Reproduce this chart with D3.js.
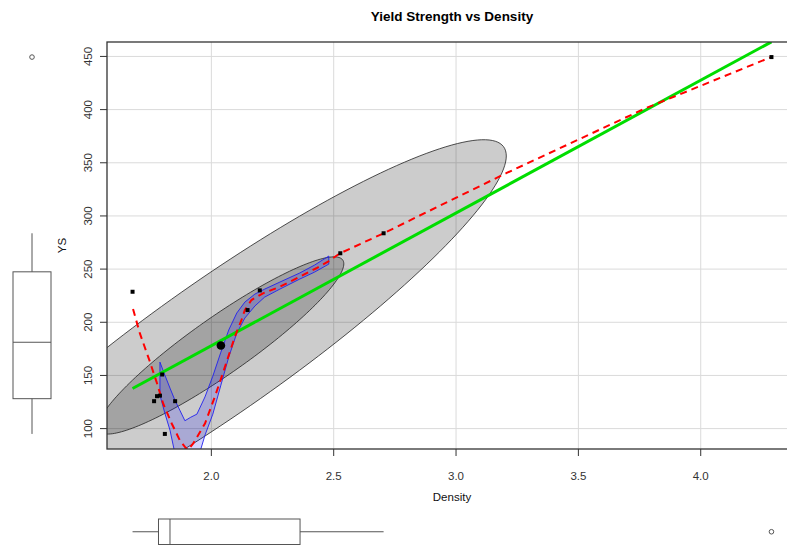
<!DOCTYPE html>
<html><head><meta charset="utf-8">
<script src="https://cdn.jsdelivr.net/npm/d3@7"></script>
<style>
body{margin:0;background:#fff}
svg{display:block;font-family:"Liberation Sans",Arial,Helvetica,sans-serif}
</style></head><body>
<svg id="chart" width="787" height="547"></svg>
<script>
// Observations
const density = [1.678, 1.766, 1.778, 1.790, 1.799, 1.810, 1.852, 2.148, 2.198, 2.527, 2.704, 4.289];
const ys      = [228.7, 125.8, 130.5, 131.0, 150.9, 95.0, 125.8, 211.5, 230.0, 264.9, 283.7, 449.4];

// Axis ticks
const xTicks = [2.0, 2.5, 3.0, 3.5, 4.0];
const xTickLabels = ["2.0", "2.5", "3.0", "3.5", "4.0"];
const yTicks = [100, 150, 200, 250, 300, 350, 400, 450];
const yTickLabels = ["100", "150", "200", "250", "300", "350", "400", "450"];

// Nonparametric smooth of YS on Density
const smoothX = [1.680, 1.708, 1.749, 1.776, 1.803, 1.838, 1.871, 1.892, 1.905, 1.926, 1.974, 2.014, 2.042, 2.069, 2.096, 2.123, 2.137, 2.164, 2.211, 2.280, 2.361, 2.429, 2.477, 2.526, 2.704, 3.205, 3.776, 4.288];
const smoothY = [212.4, 189.5, 162.8, 144.0, 123.6, 104.8, 89.1, 82.8, 80.0, 86.0, 104.8, 129.8, 148.7, 167.5, 186.3, 202.1, 211.5, 220.9, 227.2, 233.4, 242.8, 250.8, 257.0, 264.9, 283.7, 340.2, 401.4, 449.4];

// Band around the smooth
const bandX     = [1.790, 1.810, 1.831, 1.851, 1.871, 1.892, 1.916, 1.941, 1.974, 2.006, 2.039, 2.071, 2.104, 2.137, 2.178, 2.218, 2.280, 2.361, 2.422, 2.480];
const bandUpper = [162.5, 150.3, 138.1, 126.8, 117.4, 107.4, 110.7, 113.6, 129.8, 149.3, 171.9, 192.7, 208.7, 219.0, 226.5, 231.2, 237.8, 246.3, 253.8, 262.3];
const bandLower = [131.4, 114.5, 98.5, 76.8, 60.8, 51.4, 53.3, 68.4, 93.8, 113.6, 140.9, 167.2, 189.8, 204.0, 215.3, 223.7, 231.2, 240.6, 247.2, 254.7];

// Data ellipse: robust centre, scale and correlation, coverage levels
const ellipseCenter = [2.039, 178.2];
const ellipseScale = [0.4133, 68.56];
const ellipseCorr = 0.921;
const ellipseLevels = [0.5, 0.95];

const svg = d3.select("#chart");
const W = 787, H = 547;
svg.append("rect").attr("width", W).attr("height", H).attr("fill", "#fff");

const plot = {left: 107, top: 42, right: 797, bottom: 449};

const pad = (ext) => { const r = ext[1] - ext[0]; return [ext[0] - 0.04 * r, ext[1] + 0.04 * r]; };
const x = d3.scaleLinear().domain(pad(d3.extent(density))).range([plot.left, plot.right]);
const y = d3.scaleLinear().domain(pad(d3.extent(ys))).range([plot.bottom, plot.top]);

svg.append("clipPath").attr("id", "clip").append("rect")
  .attr("x", plot.left).attr("y", plot.top)
  .attr("width", plot.right - plot.left).attr("height", plot.bottom - plot.top);

// grid
const grid = svg.append("g").attr("stroke", "#dadada").attr("stroke-width", 1);
grid.selectAll(".gx").data(xTicks).join("line")
  .attr("x1", d => x(d)).attr("x2", d => x(d)).attr("y1", plot.top).attr("y2", plot.bottom);
grid.selectAll(".gy").data(yTicks).join("line")
  .attr("x1", plot.left).attr("x2", plot.right).attr("y1", d => y(d)).attr("y2", d => y(d));

const g = svg.append("g").attr("clip-path", "url(#clip)");

// ellipses
const n = density.length;
const radius = p => { const m = n - 1; return Math.sqrt(2 * (m / 2) * (Math.pow(1 - p, -2 / m) - 1)); };
const ellipsePts = r => d3.range(0, 361, 2).map(a => {
  const t = a * Math.PI / 180;
  const u = Math.cos(t), v = Math.sin(t);
  return [ellipseCenter[0] + r * ellipseScale[0] * u,
          ellipseCenter[1] + r * ellipseScale[1] * (ellipseCorr * u + Math.sqrt(1 - ellipseCorr * ellipseCorr) * v)];
});
const line = d3.line().x(d => x(d[0])).y(d => y(d[1]));
ellipseLevels.slice().reverse().forEach(p => {
  g.append("path").attr("d", line(ellipsePts(radius(p))) + "Z")
    .attr("fill", "#000").attr("fill-opacity", 0.2)
    .attr("stroke", "#222").attr("stroke-width", 0.8);
});

// band
const bandPts = bandX.map((d, i) => [d, bandUpper[i]]).concat(bandX.map((d, i) => [d, bandLower[i]]).reverse());
g.append("path").attr("d", line(bandPts) + "Z")
  .attr("fill", "#0000ff").attr("fill-opacity", 0.17)
  .attr("stroke", "#2020ee").attr("stroke-width", 0.9);

// least-squares line
const mx = d3.mean(density), my = d3.mean(ys);
const sxy = d3.sum(density, (d, i) => (d - mx) * (ys[i] - my));
const sxx = d3.sum(density, d => (d - mx) * (d - mx));
const slope = sxy / sxx, icpt = my - slope * mx;
const [x0, x1] = d3.extent(density);
g.append("path").attr("d", line([[x0, icpt + slope * x0], [x1, icpt + slope * x1]]))
  .attr("stroke", "#00dd00").attr("stroke-width", 3).attr("fill", "none");

// smooth
g.append("path").attr("d", line(smoothX.map((d, i) => [d, smoothY[i]])))
  .attr("stroke", "#ff0000").attr("stroke-width", 2).attr("fill", "none")
  .attr("stroke-dasharray", "7,5");

// points
g.selectAll(".pt").data(density).join("rect")
  .attr("x", d => x(d) - 2).attr("y", (d, i) => y(ys[i]) - 2)
  .attr("width", 4).attr("height", 4).attr("fill", "#000");

// centre
g.append("circle").attr("cx", x(ellipseCenter[0])).attr("cy", y(ellipseCenter[1]))
  .attr("r", 4.3).attr("fill", "#000");

// frame
svg.append("rect").attr("x", plot.left).attr("y", plot.top)
  .attr("width", plot.right - plot.left).attr("height", plot.bottom - plot.top)
  .attr("fill", "none").attr("stroke", "#333").attr("stroke-width", 1.3);

// axes
const axColor = "#333";
svg.append("g").selectAll("line").data(xTicks).join("line")
  .attr("x1", d => x(d)).attr("x2", d => x(d)).attr("y1", plot.bottom).attr("y2", plot.bottom + 7)
  .attr("stroke", axColor);
svg.append("g").selectAll("text").data(xTicks).join("text")
  .attr("x", d => x(d)).attr("y", 480).attr("text-anchor", "middle")
  .attr("font-size", 11.5).attr("fill", axColor).text((d, i) => xTickLabels[i]);
svg.append("g").selectAll("line").data(yTicks).join("line")
  .attr("x1", plot.left - 7).attr("x2", plot.left).attr("y1", d => y(d)).attr("y2", d => y(d))
  .attr("stroke", axColor);
svg.append("g").selectAll("text").data(yTicks).join("text")
  .attr("transform", d => `translate(92,${y(d)}) rotate(-90)`).attr("text-anchor", "middle")
  .attr("font-size", 11.5).attr("fill", axColor).text((d, i) => yTickLabels[i]);

svg.append("text").attr("x", (plot.left + plot.right) / 2).attr("y", 501).attr("text-anchor", "middle")
  .attr("font-size", 11.5).attr("fill", "#111").text("Density");
svg.append("text").attr("transform", `translate(66,${(plot.top + plot.bottom) / 2}) rotate(-90)`)
  .attr("text-anchor", "middle").attr("font-size", 11.5).attr("fill", "#111").text("YS");
svg.append("text").attr("x", (plot.left + plot.right) / 2).attr("y", 21).attr("text-anchor", "middle")
  .attr("font-size", 13.5).attr("font-weight", "bold").attr("fill", "#000").text("Yield Strength vs Density");

// marginal boxplots
function boxStats(v) {
  const s = v.slice().sort((a, b) => a - b), m = s.length;
  const n4 = Math.floor((m + 3) / 2) / 2;
  const q = k => 0.5 * (s[Math.floor(k) - 1] + s[Math.ceil(k) - 1]);
  const lo = q(n4), med = q((m + 1) / 2), hi = q(m + 1 - n4);
  const iqr = hi - lo;
  const inside = s.filter(d => d >= lo - 1.5 * iqr && d <= hi + 1.5 * iqr);
  return {lo, med, hi, wlo: d3.min(inside), whi: d3.max(inside),
          out: s.filter(d => d < lo - 1.5 * iqr || d > hi + 1.5 * iqr)};
}
const bstroke = "#555";
const bx = boxStats(density);
const xb = svg.append("g").attr("stroke", bstroke).attr("fill", "none").attr("stroke-width", 1);
const by0 = 519, by1 = 544.5, bym = (by0 + by1) / 2;
xb.append("rect").attr("x", x(bx.lo)).attr("y", by0).attr("width", x(bx.hi) - x(bx.lo)).attr("height", by1 - by0).attr("fill", "#fff");
xb.append("line").attr("x1", x(bx.med)).attr("x2", x(bx.med)).attr("y1", by0).attr("y2", by1);
xb.append("line").attr("x1", x(bx.wlo)).attr("x2", x(bx.lo)).attr("y1", bym).attr("y2", bym);
xb.append("line").attr("x1", x(bx.hi)).attr("x2", x(bx.whi)).attr("y1", bym).attr("y2", bym);
xb.selectAll("circle").data(bx.out).join("circle").attr("cx", d => x(d)).attr("cy", bym).attr("r", 2.3);

const bY = boxStats(ys);
const yb = svg.append("g").attr("stroke", bstroke).attr("fill", "none").attr("stroke-width", 1);
const bx0 = 13, bx1 = 51, bxm = (bx0 + bx1) / 2;
yb.append("rect").attr("x", bx0).attr("y", y(bY.hi)).attr("width", bx1 - bx0).attr("height", y(bY.lo) - y(bY.hi)).attr("fill", "#fff");
yb.append("line").attr("x1", bx0).attr("x2", bx1).attr("y1", y(bY.med)).attr("y2", y(bY.med));
yb.append("line").attr("x1", bxm).attr("x2", bxm).attr("y1", y(bY.hi)).attr("y2", y(bY.whi));
yb.append("line").attr("x1", bxm).attr("x2", bxm).attr("y1", y(bY.lo)).attr("y2", y(bY.wlo));
yb.selectAll("circle").data(bY.out).join("circle").attr("cx", bxm).attr("cy", d => y(d)).attr("r", 2.3);
</script>
</body></html>
